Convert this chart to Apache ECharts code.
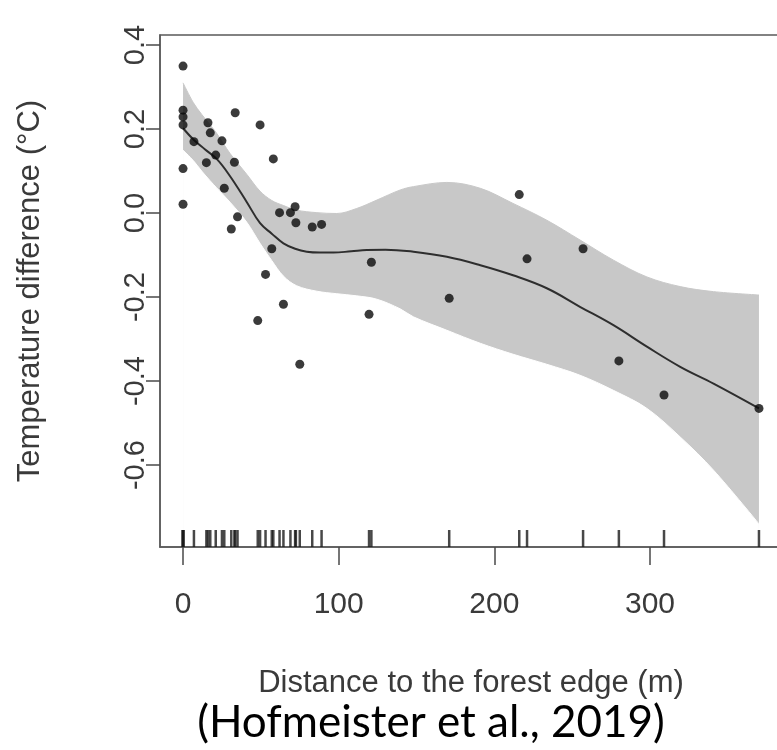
<!DOCTYPE html>
<html>
<head>
<meta charset="utf-8">
<script src="https://cdn.jsdelivr.net/npm/echarts@6/dist/echarts.min.js"></script>
<style>
html,body{margin:0;padding:0;background:#ffffff;}
#chart{width:777px;height:750px;}
</style>
</head>
<body>
<div id="chart"></div>
<script>
// ---- data ----
var distance = [0, 0, 0, 0, 0, 0, 7, 15, 16, 17.5, 21, 25, 26.5, 31, 33, 33.5, 35, 48, 49.5, 53, 57, 58, 62, 64.5, 69, 72, 72.5, 75, 83, 89, 119.5, 121, 171, 216, 221, 257, 280, 309, 370];
var tempDiff = [0.35, 0.245, 0.229, 0.21, 0.106, 0.021, 0.17, 0.12, 0.215, 0.191, 0.138, 0.172, 0.059, -0.038, 0.121, 0.239, -0.009, -0.256, 0.21, -0.146, -0.085, 0.129, 0.001, -0.217, 0.001, 0.015, -0.023, -0.36, -0.033, -0.027, -0.241, -0.117, -0.203, 0.044, -0.109, -0.085, -0.352, -0.433, -0.465];

var fitX = [0, 7, 14, 21.6, 30, 41, 49.5, 57, 64.5, 72, 79.5, 88, 96.6, 108, 118, 130, 148, 169.5, 191, 212, 233.7, 255, 276.5, 298, 319.4, 340.8, 370];
var fitY = [0.202, 0.174, 0.152, 0.129, 0.089, 0.026, -0.024, -0.049, -0.072, -0.085, -0.092, -0.094, -0.094, -0.091, -0.088, -0.087, -0.092, -0.104, -0.124, -0.148, -0.179, -0.223, -0.267, -0.318, -0.366, -0.406, -0.465];

var bandX = [0, 6.6, 12, 17.4, 21.6, 30.2, 41, 49.5, 57, 64.5, 73, 86, 98.8, 111.6, 124.5, 139.5, 148, 169.5, 191, 212, 233.7, 255, 276.5, 298, 319.4, 340.8, 370];
var bandUpper = [0.31, 0.263, 0.235, 0.21, 0.19, 0.142, 0.092, 0.052, 0.03, 0.018, 0.007, 0.001, -0.001, 0.011, 0.031, 0.055, 0.063, 0.073, 0.059, 0.023, -0.017, -0.064, -0.112, -0.152, -0.175, -0.187, -0.195];
var bandLower = [0.15, 0.125, 0.10, 0.077, 0.06, 0.026, -0.022, -0.072, -0.113, -0.150, -0.173, -0.186, -0.192, -0.197, -0.205, -0.228, -0.247, -0.279, -0.31, -0.336, -0.36, -0.386, -0.422, -0.465, -0.533, -0.612, -0.74];

var xTicks = [0, 100, 200, 300];
var yTicks = [-0.6, -0.4, -0.2, 0.0, 0.2, 0.4];

var xTitle = 'Distance to the forest edge (m)';
var yTitle = 'Temperature difference (°C)';
var caption = '(Hofmeister et al., 2019)';

// ---- build ----
var X_MIN = -14.8, X_MAX = 384.8, Y_MIN = -0.795, Y_MAX = 0.424;

var pts = distance.map(function (d, i) { return [d, tempDiff[i]]; });
var fit = fitX.map(function (d, i) { return [d, fitY[i]]; });
var upperData = bandX.map(function (d, i) { return [d, bandUpper[i]]; });
var lowerData = bandX.map(function (d, i) { return [d, bandLower[i]]; });
var rug = distance.map(function (d) { return [d, Y_MIN]; });

var chart = echarts.init(document.getElementById('chart'), null, {renderer: 'canvas'});
var axisColor = '#4a4a4a';
var textColor = '#3a3a3a';
var font = 'Liberation Sans';
var bandGray = '#c8c8c8';

chart.setOption({
  animation: false,
  backgroundColor: '#ffffff',
  grid: {
    left: 160, top: 35, width: 622, height: 512,
    show: true, borderColor: '#5a5a5a', borderWidth: 1.5, backgroundColor: 'transparent',
    outerBoundsMode: 'none', containLabel: false
  },
  xAxis: {
    type: 'value', min: X_MIN, max: X_MAX,
    splitLine: {show: false},
    axisLine: {show: true, onZero: false, lineStyle: {color: '#5a5a5a', width: 1.5}},
    axisTick: {show: true, customValues: xTicks, length: 18, lineStyle: {color: axisColor, width: 1.5}},
    axisLabel: {show: true, customValues: xTicks, margin: 43, fontSize: 30, fontFamily: font, color: textColor,
      formatter: function (v) { return String(Math.round(v)); }}
  },
  yAxis: {
    type: 'value', min: Y_MIN, max: Y_MAX,
    splitLine: {show: false},
    axisLine: {show: true, onZero: false, lineStyle: {color: '#5a5a5a', width: 1.5}},
    axisTick: {show: true, customValues: yTicks, length: 14, lineStyle: {color: axisColor, width: 1.5}},
    axisLabel: {show: true, customValues: yTicks, rotate: 90, margin: 10, fontSize: 29, fontFamily: font, color: textColor,
      formatter: function (v) { return (Math.abs(v) < 1e-9 ? 0 : v).toFixed(1); }}
  },
  graphic: [
    {type: 'text', x: 471, y: 683, style: {text: xTitle, fontSize: 31, fontFamily: font, fill: textColor, textAlign: 'center', textVerticalAlign: 'middle'}},
    {type: 'text', x: 30, y: 291, rotation: Math.PI / 2, style: {text: yTitle, fontSize: 31, fontFamily: font, fill: textColor, textAlign: 'center', textVerticalAlign: 'middle'}},
    {type: 'text', x: 431, y: 723, style: {text: caption, fontSize: 44, fontFamily: 'Lato', fill: '#000000', textAlign: 'center', textVerticalAlign: 'middle'}}
  ],
  series: [
    // confidence band: grey from the upper limit down, then white from the lower limit down
    {type: 'line', data: upperData, smooth: 0.35, symbol: 'none', silent: true, z: -3,
      lineStyle: {color: bandGray, width: 1}, areaStyle: {color: bandGray, opacity: 1, origin: 'start'}},
    {type: 'line', data: lowerData, smooth: 0.35, symbol: 'none', silent: true, z: -2,
      lineStyle: {color: '#ffffff', width: 1}, areaStyle: {color: '#ffffff', opacity: 1, origin: 'start'}},
    {type: 'line', data: fit, smooth: 0.4, symbol: 'none', lineStyle: {color: '#2e2e2e', width: 2}, z: 3},
    {type: 'scatter', data: pts, symbol: 'circle', symbolSize: 9, itemStyle: {color: '#0a0a0a'}, z: 4},
    {type: 'scatter', data: rug, symbol: 'rect', symbolSize: [2.5, 17], symbolOffset: [0, -8.5], clip: false,
      itemStyle: {color: '#1a1a1a'}, z: 4}
  ]
});
</script>
</body>
</html>
